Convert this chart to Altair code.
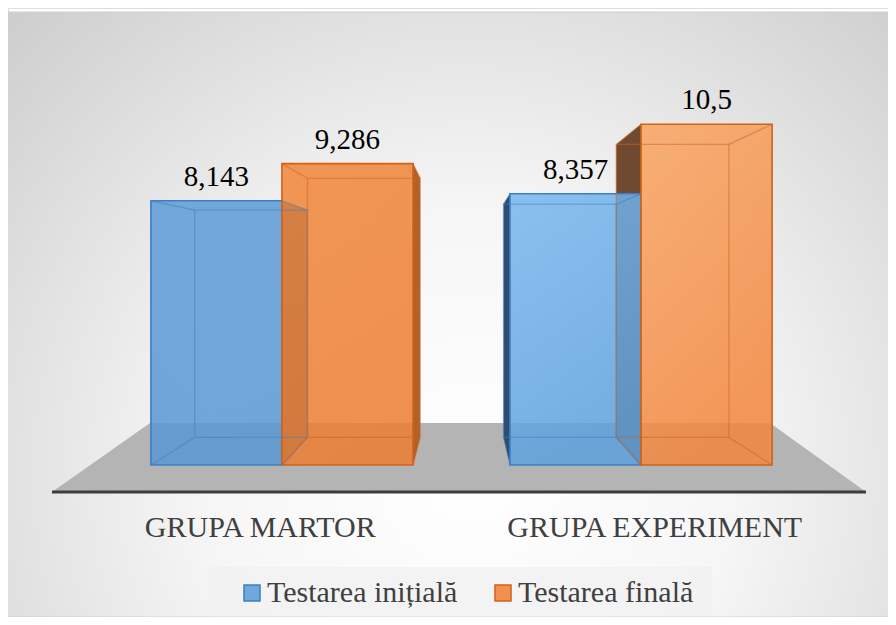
import altair as alt
import pandas as pd

# ---- data ----
categories = ["GRUPA MARTOR", "GRUPA EXPERIMENT"]
series_names = ["Testarea inițială", "Testarea finală"]
initial_values = [8.143, 8.357]
final_values = [9.286, 10.5]

legend_fill = ["#6ea8dc", "#f0914f"]
stroke_colors = ["#3c7fc4", "#d2611a"]
# front-face gradient (top, bottom) per (group, series)
front_grad = {
    (0, 0): ("#5d9dd6", "#5897d2"),
    (0, 1): ("#f18639", "#ec7d31"),
    (1, 0): ("#76b7ef", "#5da0dc"),
    (1, 1): ("#f9a460", "#f2863e"),
}
side_colors = {
    (0, 0): "#3d5f82",
    (0, 1): "#b0622c",
    (1, 0): "#2f4d6d",
    (1, 1): "#6f4a30",
}

rows = []
for i, g in enumerate(categories):
    rows.append({"group": g, "gi": i, "si": 0, "series": series_names[0], "value": initial_values[i]})
    rows.append({"group": g, "gi": i, "si": 1, "series": series_names[1], "value": final_values[i]})
df = pd.DataFrame(rows)

SERIF = "Liberation Serif, Times New Roman, serif"

W, H = 880, 484
Y_MIN, Y_MAX = -0.832, 14.083

# band layout
RANGE = [107, 800]
P_IN, P_OUT = 0.27, 0.1
y_scale = alt.Scale(domain=[Y_MIN, Y_MAX], zero=False, nice=False)
x_scale = alt.Scale(domain=categories, range=RANGE, paddingInner=P_IN, paddingOuter=P_OUT)
xo_scale = alt.Scale(domain=series_names, paddingInner=0, paddingOuter=0)
fx_scale = alt.Scale(domain=[0, W], range=[0, W], nice=False, zero=False)

# perspective (vanishing point) for the pseudo-3D depth
DEPTH = 0.86
VP_X = 456.0
VP_V = 6.07
step = (RANGE[1] - RANGE[0]) / (len(categories) - P_IN + 2 * P_OUT)
sub = step * (1 - P_IN) / len(series_names)


def to_back_x(x):
    return VP_X + DEPTH * (x - VP_X)


def to_back_v(v):
    return VP_V + DEPTH * (v - VP_V)


# geometry of the depth decoration, derived from the band layout and the values
side_rows, back_rows, diag_rows = [], [], []
for r in rows:
    gi, si, v = r["gi"], r["si"], r["value"]
    fl = RANGE[0] + P_OUT * step + gi * step + si * sub
    fr = fl + sub
    bl, br = to_back_x(fl), to_back_x(fr)
    bt, bb = to_back_v(v), to_back_v(0)
    key = (gi, si)
    if bl < fl:
        side_rows.append((key, [{"x": bl, "y": bt, "y2": bb}, {"x": fl, "y": v, "y2": 0}]))
    if br > fr:
        side_rows.append((key, [{"x": fr, "y": v, "y2": 0}, {"x": br, "y": bt, "y2": bb}]))
    back_rows.append({"si": si, "x": bl, "x2": br, "y": bt, "y2": bb})
    for fx, bx in ((fl, bl), (fr, br)):
        diag_rows.append({"si": si, "x": fx, "x2": bx, "y": v, "y2": bt})
        diag_rows.append({"si": si, "x": fx, "x2": bx, "y": 0, "y2": bb})
back_df = pd.DataFrame(back_rows)
diag_df = pd.DataFrame(diag_rows)

# background panel (decoration)
bg = alt.Chart(pd.DataFrame({"a": [0]})).mark_rect(
    fill=alt.Gradient(
        gradient="radial",
        stops=[alt.GradientStop(offset=0, color="#ffffff"),
               alt.GradientStop(offset=0.35, color="#f6f6f6"),
               alt.GradientStop(offset=1, color="#c2c2c2")],
        x1=0.52, y1=0.68, x2=0.52, y2=0.68, r1=0, r2=0.85,
    ),
    stroke="#d0d0d0", strokeWidth=1,
).encode(x=alt.value(-2), x2=alt.value(W + 8), y=alt.value(4), y2=alt.value(H + 125))

# floor (decoration)
floor_df = pd.DataFrame({
    "fx": [44, 142, 762, 858],
    "ftop": [Y_MIN, 1.294, 1.294, Y_MIN],
    "fbot": [Y_MIN] * 4,
})
floor = alt.Chart(floor_df).mark_area(color="#b4b4b4").encode(
    x=alt.X("fx:Q", scale=fx_scale, axis=None),
    y=alt.Y("ftop:Q", scale=y_scale, axis=None),
    y2="fbot:Q",
)
floor_line = alt.Chart(pd.DataFrame({"x1": [44], "x2": [858], "y": [Y_MIN]})).mark_rule(
    color="#3d3d3d", strokeWidth=3
).encode(
    x=alt.X("x1:Q", scale=fx_scale, axis=None),
    x2="x2:Q",
    y=alt.Y("y:Q", scale=y_scale, axis=None),
)

# legend box (decoration)
legend_box = alt.Chart(pd.DataFrame({"a": [0]})).mark_rect(
    fill="#f2f2f2", opacity=0.9
).encode(x=alt.value(200), x2=alt.value(704), y=alt.value(559), y2=alt.value(608))

side_layers = []
for key, pts in side_rows:
    side_layers.append(
        alt.Chart(pd.DataFrame(pts)).mark_area(color=side_colors[key]).encode(
            x=alt.X("x:Q", scale=fx_scale, axis=None),
            y=alt.Y("y:Q", scale=y_scale, axis=None),
            y2="y2:Q",
        )
    )

base_x = alt.X("group:N", scale=x_scale, sort=categories, axis=None)
base_xo = alt.XOffset("series:N", scale=xo_scale, sort=series_names)

front_layers = []
for (gi, si), (ctop, cbot) in front_grad.items():
    front_layers.append(
        alt.Chart(df).transform_filter(f"datum.gi === {gi} && datum.si === {si}").mark_bar(
            fill=alt.Gradient(gradient="linear",
                              stops=[alt.GradientStop(offset=0, color=ctop),
                                     alt.GradientStop(offset=1, color=cbot)],
                              x1=0, y1=0, x2=0.3, y2=1),
            fillOpacity=0.85, stroke=stroke_colors[si], strokeWidth=1.6,
        ).encode(x=base_x, xOffset=base_xo, y=alt.Y("value:Q", scale=y_scale, axis=None))
    )

edge_layers = []
for si in range(len(series_names)):
    edge_layers.append(
        alt.Chart(back_df[back_df.si == si]).mark_rect(
            fillOpacity=0, stroke=stroke_colors[si], strokeOpacity=0.5, strokeWidth=1.3
        ).encode(
            x=alt.X("x:Q", scale=fx_scale, axis=None), x2="x2:Q",
            y=alt.Y("y:Q", scale=y_scale, axis=None), y2="y2:Q",
        )
    )
    edge_layers.append(
        alt.Chart(diag_df[diag_df.si == si]).mark_rule(
            stroke=stroke_colors[si], strokeOpacity=0.5, strokeWidth=1.3
        ).encode(
            x=alt.X("x:Q", scale=fx_scale, axis=None), x2="x2:Q",
            y=alt.Y("y:Q", scale=y_scale, axis=None), y2="y2:Q",
        )
    )

legend_kw = dict(title=None, orient="none", legendX=229, legendY=570,
                 direction="horizontal", labelFont=SERIF, labelFontSize=30,
                 labelColor="#404040", labelLimit=0, symbolType="square",
                 symbolSize=256, symbolStrokeWidth=1.5, labelOffset=0,
                 columnPadding=30, padding=0)

# zero-size marks that only carry the legend
legend_layer = alt.Chart(df).mark_bar(strokeWidth=0).encode(
    x=alt.value(0), x2=alt.value(0), y=alt.value(0), y2=alt.value(0),
    fill=alt.Fill("series:N", scale=alt.Scale(domain=series_names, range=legend_fill),
                  sort=series_names, legend=alt.Legend(**legend_kw)),
    stroke=alt.Stroke("series:N", scale=alt.Scale(domain=series_names, range=stroke_colors),
                      sort=series_names, legend=alt.Legend(**legend_kw)),
)

labels = alt.Chart(df).transform_calculate(
    label="replace(toString(datum.value), '.', ',')"
).mark_text(font=SERIF, fontSize=29, baseline="alphabetic", dy=-15,
            color="#000000").encode(
    x=base_x, xOffset=base_xo,
    y=alt.Y("value:Q", scale=y_scale, axis=None),
    text="label:N",
)

# category labels - nudged as in the perspective drawing
cat_shift = {"GRUPA MARTOR": -28, "GRUPA EXPERIMENT": 20}
cat_layers = []
for g in categories:
    cat_layers.append(
        alt.Chart(pd.DataFrame({"group": [g]})).mark_text(
            font=SERIF, fontSize=30, color="#404040", baseline="alphabetic",
            dx=cat_shift[g]
        ).encode(x=base_x, y=alt.value(H + 45), text="group:N")
    )

chart = alt.layer(
    bg, floor, floor_line, legend_box, *side_layers, *front_layers, *edge_layers,
    legend_layer, labels, *cat_layers
).resolve_scale(x="independent").properties(
    width=W, height=H,
    autosize=alt.AutoSizeParams(type="none"),
    padding={"left": 0, "right": 0, "top": 0, "bottom": 125},
).configure_view(stroke=None).configure(background="white")

chart.save("out.html", embed_options={"renderer": "svg", "actions": False})
